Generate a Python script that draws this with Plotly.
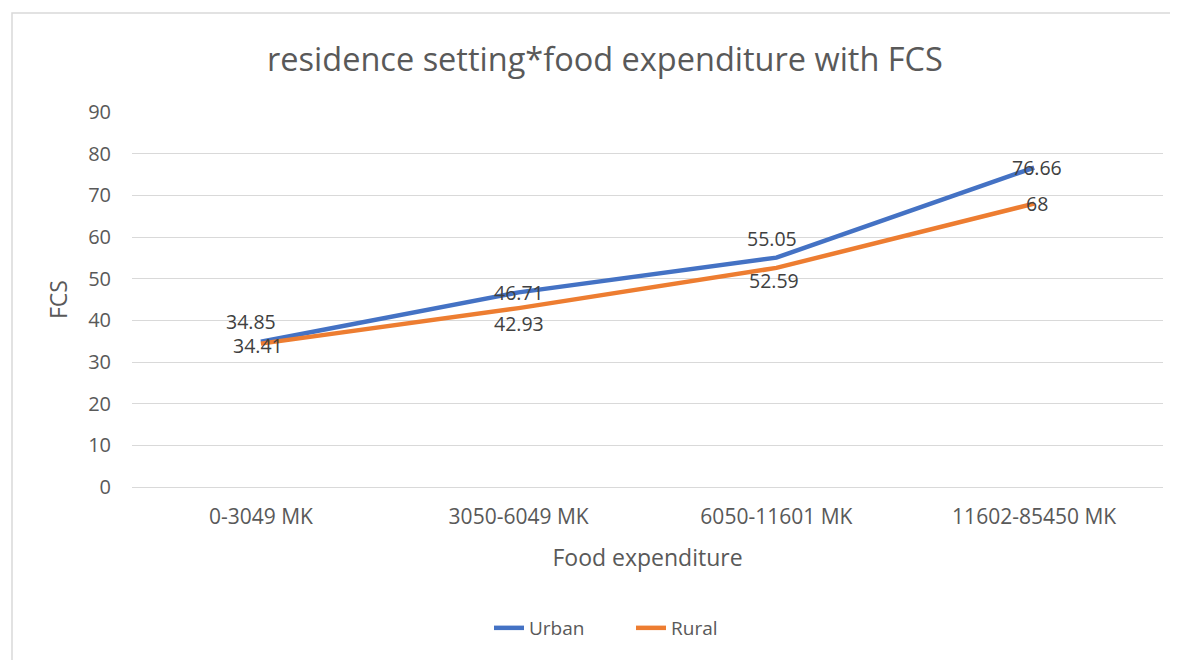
import plotly.graph_objects as go

categories = ["0-3049 MK", "3050-6049 MK", "6050-11601 MK", "11602-85450 MK"]
urban = [34.85, 46.71, 55.05, 76.66]
rural = [34.41, 42.93, 52.59, 68]
urban_labels = ["34.85", "46.71", "55.05", "76.66"]
rural_labels = ["34.41", "42.93", "52.59", "68"]

# label offsets in pixels (style only)
urban_shift = [(-10, 20), (0, 0), (-4, 19), (3, 0)]
rural_shift = [(-3, -2), (0, -15), (-2, -13), (3, 0)]

OFF = 8  # page body margin
W, H = 1178 - OFF, 660 - OFF
L, T = 132 - OFF, 112 - OFF
plot_right, plot_bottom = 1163 - OFF, 487 - OFF
R, B = W - plot_right, H - plot_bottom
pw, ph = plot_right - L, plot_bottom - T

font_family = "Open Sans, Noto Sans, sans-serif"
grey = "#595959"

fig = go.Figure()
fig.add_trace(go.Scatter(
    x=categories, y=urban, name="Urban", mode="lines",
    line=dict(color="#4472C4", width=4.5),
))
fig.add_trace(go.Scatter(
    x=categories, y=rural, name="Rural", mode="lines",
    line=dict(color="#ED7D31", width=4.5),
))

annotations = []
for cat, val, lab, (dx, dy) in zip(categories, urban, urban_labels, urban_shift):
    annotations.append(dict(x=cat, y=val, text=lab, showarrow=False, xshift=dx, yshift=dy,
                            font=dict(size=19.5, color="#404040", family=font_family)))
for cat, val, lab, (dx, dy) in zip(categories, rural, rural_labels, rural_shift):
    annotations.append(dict(x=cat, y=val, text=lab, showarrow=False, xshift=dx, yshift=dy,
                            font=dict(size=19.5, color="#404040", family=font_family)))

fig.add_shape(type="rect", xref="paper", yref="paper",
              x0=(12 - OFF - L) / pw, x1=(1176 - OFF - L) / pw,
              y0=-1.0, y1=(plot_bottom - (13 - OFF)) / ph,
              line=dict(color="#D9D9D9", width=1.5), fillcolor="rgba(0,0,0,0)", layer="below")

fig.update_layout(
    width=W, height=H,
    margin=dict(l=L, r=R, t=T, b=B, autoexpand=False),
    paper_bgcolor="white", plot_bgcolor="white",
    font=dict(family=font_family, color=grey),
    annotations=annotations,
    title=dict(text="residence setting*food expenditure with FCS",
               x=(605 - OFF) / W, xanchor="center",
               y=1 - (60 - OFF) / H, yanchor="middle",
               font=dict(size=32.5, color=grey)),
    showlegend=True,
    legend=dict(orientation="h", x=(631 - OFF - L) / pw, xanchor="center",
                y=-(628 - OFF - plot_bottom) / ph, yanchor="middle",
                entrywidth=97, entrywidthmode="pixels",
                font=dict(size=19, color=grey)),
    xaxis=dict(
        type="category", range=[-0.5, 3.5], showgrid=False, showline=False,
        ticks="", ticklabelstandoff=15, tickfont=dict(size=21, color=grey),
        title=dict(text="Food expenditure", font=dict(size=23, color=grey), standoff=20),
    ),
    yaxis=dict(
        range=[0, 90], dtick=10, showgrid=True, gridcolor="#D9D9D9", gridwidth=1.2,
        zeroline=True, zerolinecolor="#D9D9D9", zerolinewidth=1.2,
        showline=False, ticks="", ticklabelstandoff=20,
        tickfont=dict(size=20, color=grey),
        title=dict(text="FCS", font=dict(size=23, color=grey), standoff=14),
    ),
)

fig.write_html("out.html")
